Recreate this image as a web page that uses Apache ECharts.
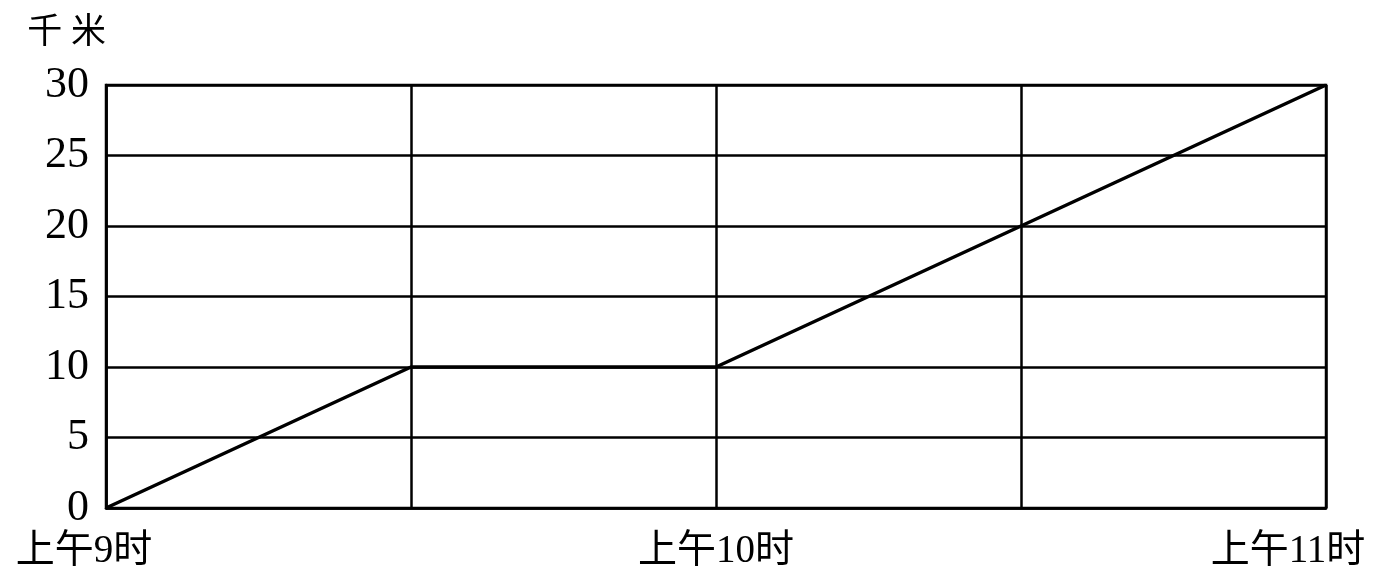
<!DOCTYPE html>
<html><head><meta charset="utf-8">
<script src="https://cdn.jsdelivr.net/npm/echarts@6/dist/echarts.min.js"></script>
<style>html,body{margin:0;padding:0;background:#fff}#c{width:1400px;height:582px}</style>
</head><body><div id="c"></div>
<script>
const xTickLabels = ['上午9时', '', '上午10时', '', '上午11时'];
const halfHours = [0, 1, 2, 4];
const distanceKm = [0, 10, 10, 30];
const yTicks = [0, 5, 10, 15, 20, 25, 30];

const FONT = '"Liberation Serif", "Noto Sans CJK SC", serif';
const XFS = 39;
const chart = echarts.init(document.getElementById('c'), null, {renderer: 'canvas'});
chart.setOption({
  backgroundColor: '#fff',
  animation: false,
  grid: {left: 106, right: 74, top: 85, bottom: 74, show: true, borderColor: '#000', borderWidth: 2.5},
  xAxis: {
    type: 'value', min: 0, max: xTickLabels.length - 1, interval: 1,
    axisLine: {show: true, lineStyle: {color: '#000', width: 2.5}},
    axisTick: {show: false},
    splitLine: {show: true, lineStyle: {color: '#000', width: 2.5}},
    axisLabel: {
      margin: 24, color: '#000', fontFamily: FONT, fontSize: XFS,
      formatter: function (v) {
        const t = xTickLabels[Math.round(v)] || '';
        if (!t) return '';
        if (v === 0) return '{l|' + t + '}';
        if (v === xTickLabels.length - 1) return '{r|' + t + '}';
        return '{m|' + t + '}';
      },
      rich: {
        l: {fontFamily: FONT, fontSize: XFS, color: '#000', padding: [0, 44, 0, 0]},
        m: {fontFamily: FONT, fontSize: XFS, color: '#000'},
        r: {fontFamily: FONT, fontSize: XFS, color: '#000', padding: [0, 76, 0, 0]}
      }
    }
  },
  yAxis: {
    type: 'value', min: yTicks[0], max: yTicks[yTicks.length - 1], interval: 5,
    name: '千 米', nameLocation: 'end', nameGap: 34,
    nameTextStyle: {fontFamily: FONT, fontSize: 35, color: '#000', align: 'right', padding: [0, 0, 0, 0]},
    axisLine: {show: true, lineStyle: {color: '#000', width: 2.5}},
    axisTick: {show: false},
    splitLine: {show: true, lineStyle: {color: '#000', width: 2.5}},
    axisLabel: {margin: 17, color: '#000', fontFamily: FONT, fontSize: 44}
  },
  series: [{
    type: 'line',
    data: halfHours.map((h, i) => [h, distanceKm[i]]),
    symbol: 'none',
    lineStyle: {color: '#000', width: 3.5}
  }]
});
</script></body></html>
